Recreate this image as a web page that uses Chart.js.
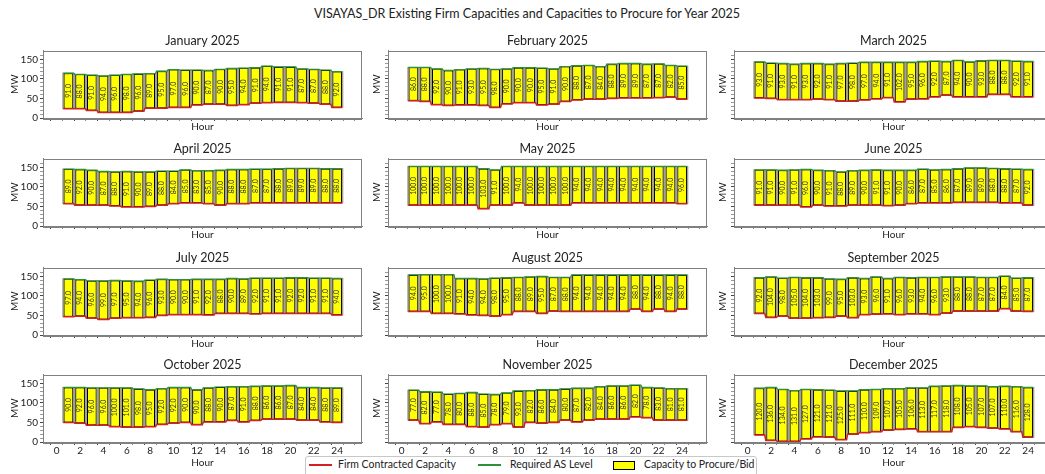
<!DOCTYPE html>
<html>
<head>
<meta charset="utf-8">
<script src="https://cdn.jsdelivr.net/npm/chart.js@4.4.1/dist/chart.umd.min.js"></script>
<style>
  body { margin: 0; width: 1045px; height: 474px; overflow: hidden; position: relative; background: #fff; font-family: Lato, sans-serif; color: #222; }
  #mainTitle { position: absolute; left: 0; width: 1054px; top: 6px; text-align: center; font-size: 12.5px; }
  canvas { position: absolute; }
  #legend { position: absolute; z-index: 10; left: 305px; top: 456px; width: 450px; height: 24px; border: 1px solid #c8c8c8; border-radius: 3px; background: #fff; font-size: 10.5px; }
  #legend .ln { position: absolute; top: 7px; width: 23px; height: 1.5px; }
  #legend .sw { position: absolute; top: 4px; width: 20px; height: 7px; background: #ffff00; border: 1px solid #000; }
  #legend .tx { position: absolute; top: 1px; white-space: nowrap; }
</style>
</head>
<body>
<div id="mainTitle">VISAYAS_DR Existing Firm Capacities and Capacities to Procure for Year 2025</div>
<div id="legend">
  <span class="ln" style="left:3px; background:#d42020"></span><span class="tx" style="left:32px">Firm Contracted Capacity</span>
  <span class="ln" style="left:172px; background:#2f8f3a"></span><span class="tx" style="left:204px">Required AS Level</span>
  <span class="sw" style="left:307px"></span><span class="tx" style="left:338px">Capacity to Procure/Bid</span>
</div>
<script>
const months = ['January 2025', 'February 2025', 'March 2025', 'April 2025', 'May 2025', 'June 2025',
    'July 2025', 'August 2025', 'September 2025', 'October 2025', 'November 2025', 'December 2025'];
const hours = [1, 2, 3, 4, 5, 6, 7, 8, 9, 10, 11, 12, 13, 14, 15, 16, 17, 18, 19, 20, 21, 22, 23, 24];
const xTicks = [0, 1, 2, 3, 4, 5, 6, 7, 8, 9, 10, 11, 12, 13, 14, 15, 16, 17, 18, 19, 20, 21, 22, 23, 24, 25];
const xTickLabels = [0, 2, 4, 6, 8, 10, 12, 14, 16, 18, 20, 22, 24];
const yTicks = [0, 10, 20, 30, 40, 50, 60, 70, 80, 90, 100, 110, 120, 130, 140, 150, 160];
const yTickLabels = [0, 50, 100, 150];

// Firm contracted capacity (bottom of each bar), MW
const firmJan = [24, 24, 19, 14, 14, 14, 17, 25, 25, 27, 27, 33, 35, 35, 32, 34, 38, 39, 40, 40, 39, 38, 35, 27];
const firmFeb = [44, 42, 34, 32, 33, 33, 32, 27, 36, 39, 39, 33, 35, 42, 46, 48, 48, 50, 51, 51, 51, 52, 53, 48];
const firmMar = [51, 50, 47, 47, 47, 48, 47, 43, 43, 46, 49, 52, 41, 48, 49, 54, 58, 54, 54, 54, 60, 60, 54, 54];
const firmApr = [57, 53, 53, 53, 51, 49, 49, 50, 53, 57, 59, 59, 57, 53, 57, 57, 59, 59, 59, 59, 59, 59, 59, 59];
const firmMay = [53, 53, 53, 53, 53, 53, 44, 53, 53, 59, 53, 53, 53, 53, 59, 59, 59, 59, 59, 59, 59, 59, 59, 57];
const firmJun = [53, 53, 53, 53, 49, 53, 51, 51, 53, 53, 53, 52, 53, 57, 59, 59, 59, 60, 60, 60, 60, 59, 59, 53];
const firmJul = [47, 48, 43, 40, 43, 44, 44, 45, 50, 52, 52, 52, 51, 55, 55, 55, 54, 55, 55, 55, 55, 55, 55, 51];
const firmAug = [60, 60, 55, 55, 54, 51, 50, 48, 52, 60, 60, 55, 61, 60, 60, 60, 60, 60, 60, 66, 60, 66, 60, 66];
const firmSep = [55, 45, 48, 43, 43, 44, 45, 48, 44, 52, 53, 54, 52, 54, 54, 52, 56, 61, 61, 61, 61, 67, 61, 60];
const firmOct = [50, 48, 43, 43, 39, 38, 38, 39, 45, 48, 50, 44, 51, 51, 55, 51, 55, 58, 58, 58, 56, 56, 51, 50];
const firmNov = [56, 47, 51, 45, 45, 39, 38, 44, 47, 38, 50, 48, 50, 56, 51, 56, 58, 58, 58, 64, 62, 56, 56, 56];
const firmDec = [18, 4, 1, 1, 8, 13, 12, 6, 20, 24, 26, 30, 32, 33, 26, 26, 26, 37, 39, 37, 35, 33, 26, 12];

// Capacity to procure/bid (bar height, as labelled), MW
const procureJan = [91, 88, 91, 94, 96, 98, 96, 89, 95, 97, 96, 90, 87, 90, 95, 94, 91, 94, 91, 91, 87, 87, 88, 92];
const procureFeb = [86, 88, 92, 90, 91, 93, 95, 98, 90, 90, 90, 95, 91, 90, 88, 87, 84, 88, 89, 89, 87, 87, 82, 85];
const procureMar = [93, 91, 93, 91, 93, 92, 91, 97, 98, 97, 94, 91, 102, 95, 96, 92, 87, 94, 90, 93, 88, 88, 92, 91];
const procureApr = [89, 92, 90, 87, 88, 91, 90, 89, 88, 84, 85, 83, 85, 90, 88, 88, 87, 87, 88, 89, 89, 89, 88, 88];
const procureMay = [100, 100, 100, 100, 100, 100, 103, 91, 100, 94, 100, 100, 100, 100, 94, 94, 94, 94, 94, 94, 94, 94, 94, 96];
const procureJun = [91, 91, 90, 91, 96, 90, 91, 88, 89, 90, 91, 91, 90, 86, 87, 85, 86, 87, 89, 89, 88, 88, 87, 92];
const procureJul = [97, 94, 96, 99, 97, 95, 94, 96, 93, 90, 90, 91, 92, 88, 90, 89, 92, 91, 91, 92, 92, 91, 91, 94];
const procureAug = [94, 95, 100, 100, 91, 94, 94, 98, 95, 88, 89, 95, 87, 88, 94, 94, 94, 94, 94, 88, 94, 88, 94, 88];
const procureSep = [92, 104, 98, 105, 104, 103, 99, 95, 103, 93, 96, 91, 96, 93, 94, 96, 93, 88, 88, 87, 87, 84, 85, 87];
const procureOct = [90, 92, 96, 96, 100, 101, 98, 95, 92, 92, 90, 90, 88, 90, 87, 91, 88, 86, 86, 87, 84, 84, 88, 89];
const procureNov = [77, 82, 77, 78, 80, 88, 85, 78, 79, 93, 82, 86, 84, 80, 87, 82, 84, 86, 86, 82, 78, 83, 81, 81];
const procureDec = [120, 136, 134, 131, 127, 121, 121, 125, 111, 110, 109, 107, 105, 106, 113, 117, 118, 108, 105, 107, 107, 110, 116, 128];

const firmAll = [firmJan, firmFeb, firmMar, firmApr, firmMay, firmJun, firmJul, firmAug, firmSep, firmOct, firmNov, firmDec];
const procureAll = [procureJan, procureFeb, procureMar, procureApr, procureMay, procureJun,
    procureJul, procureAug, procureSep, procureOct, procureNov, procureDec];

const RED = '#d42020';
const GREEN = '#2f8f3a';

// panel geometry (plot area positions on the page)
const colPlotLeft = [42.5, 388, 734];
const colAxisW = [34, 17, 17];
const rowPlotTop = [50, 158, 267, 374.3];
const plotW = 319;
const plotH = 67.5;
const titleBlock = 17.5;

Chart.defaults.font.family = 'Lato, sans-serif';
Chart.defaults.color = '#222';

// draw the value labels rotated inside the bars
const barLabels = {
    id: 'barLabels',
    afterDatasetsDraw(chart, args, opts) {
        const ctx = chart.ctx;
        const meta = chart.getDatasetMeta(2);
        ctx.save();
        ctx.font = '7px Lato, sans-serif';
        ctx.fillStyle = '#333';
        ctx.textAlign = 'center';
        ctx.textBaseline = 'middle';
        meta.data.forEach((bar, i) => {
            const p = bar.getProps(['x', 'y', 'base'], true);
            ctx.save();
            ctx.translate(p.x, (p.y + p.base) / 2);
            ctx.rotate(-Math.PI / 2);
            ctx.fillText(opts.values[i].toFixed(1), 0, 0);
            ctx.restore();
        });
        ctx.restore();
    }
};

// box around the plot area, like matplotlib spines
const frame = {
    id: 'frame',
    afterDraw(chart) {
        const { ctx, chartArea: a } = chart;
        ctx.save();
        ctx.strokeStyle = '#808080';
        ctx.lineWidth = 1;
        ctx.strokeRect(Math.round(a.left) + 0.5, Math.round(a.top) + 0.5,
            Math.round(a.right - a.left) - 1, Math.round(a.bottom - a.top));
        ctx.restore();
    }
};

const edgePoints = (values) => {
    const pts = [];
    values.forEach((v, i) => {
        pts.push({ x: hours[i] - 0.45, y: v });
        pts.push({ x: hours[i] + 0.45, y: v });
    });
    return pts;
};

const drawPanel = (m) => {
    const row = Math.floor(m / 3);
    const col = m % 3;
    const isBottom = row === 3;
    const showY = col === 0;
    const axisW = colAxisW[col];
    const xH = isBottom ? 27 : 15;

    const canvas = document.createElement('canvas');
    canvas.width = axisW + plotW + 2;
    canvas.height = Math.round(titleBlock + plotH + xH + 1);
    canvas.style.left = (colPlotLeft[col] - axisW) + 'px';
    canvas.style.top = (rowPlotTop[row] - titleBlock) + 'px';
    document.body.appendChild(canvas);

    const firm = firmAll[m];
    const procure = procureAll[m];
    const required = firm.map((f, i) => f + procure[i]);
    const bars = hours.map((h, i) => ({ x: h, y: [firm[i], required[i]] }));

    new Chart(canvas, {
        data: {
            datasets: [
                {
                    type: 'line', label: 'Firm Contracted Capacity', data: edgePoints(firm),
                    borderColor: RED, borderWidth: 1.5, pointRadius: 0, tension: 0, order: 1
                },
                {
                    type: 'line', label: 'Required AS Level', data: edgePoints(required),
                    borderColor: GREEN, borderWidth: 1.2, pointRadius: 0, tension: 0, order: 1
                },
                {
                    type: 'bar', label: 'Capacity to Procure/Bid', data: bars,
                    backgroundColor: '#ffff00', borderColor: '#000', borderWidth: 1, borderSkipped: false,
                    barPercentage: 0.82, categoryPercentage: 1, grouped: false, order: 2
                },
                {
                    type: 'bar', label: '', data: bars,
                    backgroundColor: '#a4a48e', borderWidth: 0,
                    barPercentage: 1, categoryPercentage: 1, grouped: false, order: 3
                }
            ]
        },
        options: {
            responsive: false,
            animation: false,
            events: [],
            layout: { padding: { right: 2, bottom: 1 } },
            plugins: {
                legend: { display: false },
                tooltip: { enabled: false },
                title: {
                    display: true, text: months[m], fullSize: false, color: '#222',
                    font: { size: 12.5, weight: 'normal' }, padding: { top: 0, bottom: 2.5 }
                },
                barLabels: { values: procure }
            },
            scales: {
                x: {
                    type: 'linear', min: -0.65, max: 25.6,
                    afterBuildTicks: (s) => { s.ticks = xTicks.map(v => ({ value: v })); },
                    afterFit: (s) => { s.height = xH; },
                    ticks: {
                        autoSkip: false, maxRotation: 0, padding: 0,
                        font: { size: 10 }, color: '#222',
                        callback: (v) => (isBottom && xTickLabels.includes(v)) ? String(v) : ''
                    },
                    grid: {
                        drawOnChartArea: false, tickLength: 3,
                        tickColor: (c) => (c.tick && c.tick.value % 2 === 0) ? '#444' : '#888'
                    },
                    border: { color: '#808080' },
                    title: { display: true, text: 'Hour', font: { size: 10 }, padding: 0, color: '#222' }
                },
                y: {
                    min: 0, max: 173,
                    afterBuildTicks: (s) => { s.ticks = yTicks.map(v => ({ value: v })); },
                    afterFit: (s) => { s.width = axisW; },
                    ticks: {
                        autoSkip: false, padding: 2,
                        font: { size: 10 }, color: '#222',
                        callback: (v) => (showY && yTickLabels.includes(v)) ? String(v) : ''
                    },
                    grid: {
                        drawOnChartArea: false, tickLength: 3,
                        tickColor: (c) => (c.tick && c.tick.value % 50 === 0) ? '#444' : '#999'
                    },
                    border: { color: '#808080' },
                    title: { display: true, text: 'MW', font: { size: 10 }, padding: 0, color: '#222' }
                }
            }
        },
        plugins: [barLabels, frame]
    });
};

document.addEventListener('DOMContentLoaded', () => {
    document.fonts.load('12px Lato').then(() => {
        months.forEach((name, m) => drawPanel(m));
    });
});
</script>
</body>
</html>
